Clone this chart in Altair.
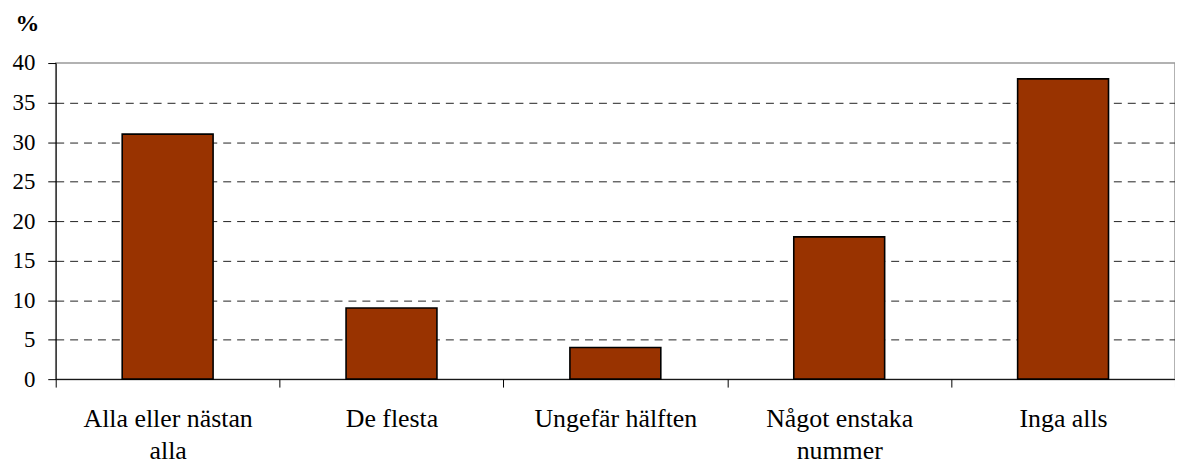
import altair as alt
import pandas as pd

categories = ["Alla eller nästan alla", "De flesta", "Ungefär hälften", "Något enstaka nummer", "Inga alls"]
values = [31, 9, 4, 18, 38]

df = pd.DataFrame({"kategori": categories, "procent": values})

label_expr = (
    "datum.label == 'Alla eller nästan alla' ? ['Alla eller nästan', 'alla'] : "
    "datum.label == 'Något enstaka nummer' ? ['Något enstaka', 'nummer'] : datum.label"
)

font = "Times New Roman, Liberation Serif, serif"

chart = alt.Chart(df).mark_bar(
    color="#993300", stroke="black", strokeWidth=1.6,
    width=alt.RelativeBandSize(0.406)
).encode(
    x=alt.X("kategori:N", sort=categories, title=None,
            scale=alt.Scale(paddingInner=0, paddingOuter=0),
            axis=alt.Axis(tickBand="extent", labelAngle=0, labelExpr=label_expr,
                          domainColor="black", tickColor="black", tickSize=8,
                          labelFont=font, labelFontSize=26, labelColor="black",
                          labelPadding=19, labelLineHeight=32, grid=False,
                          labelBaseline="top")),
    y=alt.Y("procent:Q", title="%",
            scale=alt.Scale(domain=[0, 40], nice=False),
            axis=alt.Axis(values=[0, 5, 10, 15, 20, 25, 30, 35, 40],
                          domainColor="black", tickColor="black", tickSize=8,
                          labelFont=font, labelFontSize=23, labelColor="black",
                          labelPadding=13,
                          grid=True, gridColor="#222222", gridDash=[8, 6], gridWidth=1,
                          gridOpacity={"condition": {"test": "datum.value == 40 || datum.value == 0", "value": 0}, "value": 1},
                          titleAngle=0, titleAlign="center", titleBaseline="middle",
                          titleX=-29, titleY=-40, titleFont=font, titleFontSize=24,
                          titleFontWeight="bold", titleColor="black")),
).properties(
    width=1126, height=318,
    autosize=alt.AutoSizeParams(type="none"),
    padding={"left": 48, "top": 54, "right": 0, "bottom": 85},
).configure_view(
    stroke="#999999", strokeWidth=1.5
)

chart.save("out.html", embed_options={"renderer": "svg", "actions": False})
